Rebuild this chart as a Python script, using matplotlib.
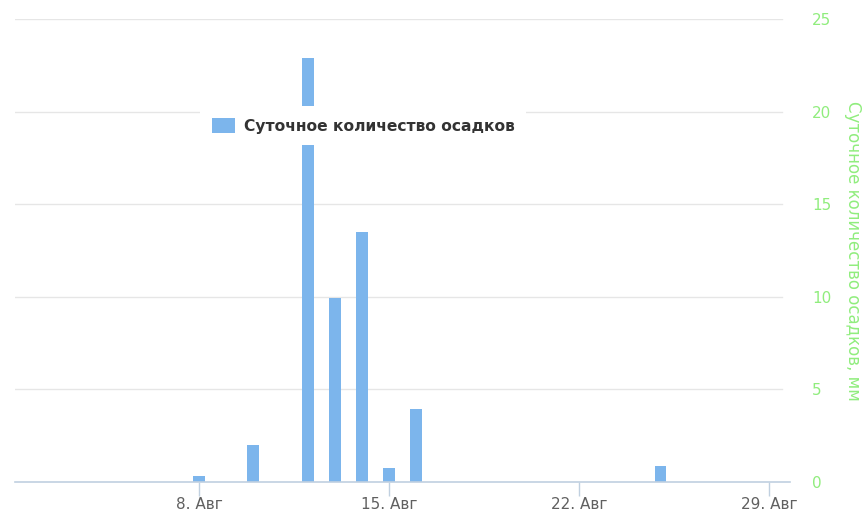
import datetime as dt
import matplotlib
matplotlib.use("Agg")
import matplotlib.pyplot as plt
import matplotlib.dates as mdates
from matplotlib.patches import Patch

# Daily precipitation, August
days = [8, 10, 12, 13, 14, 15, 16, 25]
precip = [0.32, 2.0, 22.9, 9.95, 13.5, 0.75, 3.95, 0.85]
tick_days = [8, 15, 22, 29]
tick_labels = ['8. Авг', '15. Авг', '22. Авг', '29. Авг']
y_ticks = [0, 5, 10, 15, 20, 25]

dates = [dt.date(2023, 8, d) for d in days]
tick_dates = [dt.date(2023, 8, d) for d in tick_days]

plt.rcParams['font.family'] = ['DejaVu Sans']

fig = plt.figure(figsize=(8.63, 5.12), dpi=100)
ax = fig.add_axes([15 / 863, 30 / 512, 775 / 863, 463 / 512])

bar_color = '#7cb5ec'
green = '#90ed7d'
ax.bar(mdates.date2num(dates), precip, width=0.44, color=bar_color, zorder=2)

x0 = mdates.date2num(dt.date(2023, 8, 8))
ax.set_xlim(x0 - 6.78, x0 + 21.77)
ax.set_ylim(0, 25)

ax.set_xticks(mdates.date2num(tick_dates))
ax.set_xticklabels(tick_labels, fontsize=11, color='#606060')
ax.tick_params(axis='x', length=10, width=1, color='#c0d0e0', pad=1)

ax.yaxis.tick_right()
ax.yaxis.set_label_position('right')
ax.set_yticks(y_ticks)
ax.set_yticklabels([str(v) for v in y_ticks], fontsize=11, color=green, ha='left')
ax.tick_params(axis='y', length=0, pad=16)
ax.set_ylabel('Суточное количество осадков, мм', color=green, fontsize=12,
              rotation=270, labelpad=9, va='bottom')

for v in y_ticks[1:]:
    ax.axhline(v, color='#e6e6e6', lw=1, zorder=1, xmax=0.99)

for s in ['top', 'left', 'right']:
    ax.spines[s].set_visible(False)
ax.spines['bottom'].set_color('#c0d0e0')
ax.spines['bottom'].set_linewidth(1.2)

handle = Patch(facecolor=bar_color, edgecolor='none')
leg = ax.legend([handle], ['Суточное количество осадков'], loc='center',
                bbox_to_anchor=(0.449, 0.769), frameon=True, fancybox=False,
                handlelength=1.5, handleheight=1.1, handletextpad=0.55,
                borderpad=0.75, borderaxespad=0,
                prop={'weight': 'bold', 'size': 11.2})
leg.get_frame().set_facecolor('white')
leg.get_frame().set_edgecolor('none')
leg.get_frame().set_alpha(1)
leg.set_zorder(5)
for t in leg.get_texts():
    t.set_color('#333333')

fig.savefig('out.png', dpi=100)
